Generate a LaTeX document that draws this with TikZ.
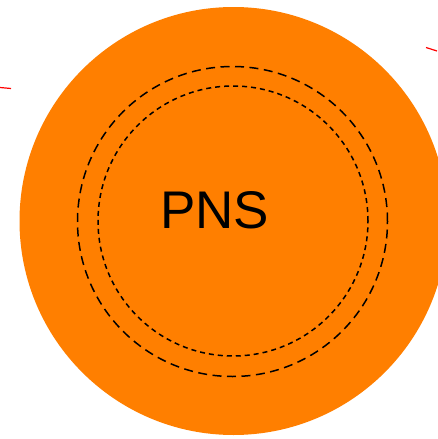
\documentclass[tikz,border=0pt]{standalone}
\usepackage{fontspec}
\setmainfont{Liberation Sans}
\definecolor{pnsorange}{HTML}{FF7F00}
\begin{document}
\begin{tikzpicture}[x=1pt,y=-1pt,
  ring/.style={draw=black,line width=1.5pt,fill=none},
  redline/.style={draw=red,line width=1.2pt}]
\useasboundingbox (0,0) rectangle (437,439);
\fill[pnsorange] (233.5,221) circle (214);
\node[circle,ring,dash pattern=on 9pt off 5.5pt,minimum size=310pt,inner sep=0pt] (outer) at (232.5,221.5) {};
\node[circle,ring,dash pattern=on 5pt off 4pt,minimum size=270pt,inner sep=0pt] (inner) at (233,221) {};
\node[font=\fontsize{53}{60}\selectfont,inner sep=0pt] (pns) at (214.5,210) {PNS};
\coordinate (l1) at (0,87.5);
\coordinate (l2) at (11,88.5);
\coordinate (r1) at (426,47.5);
\coordinate (r2) at (437,51);
\draw[redline] (l1) -- (l2);
\draw[redline] (r1) -- (r2);
\end{tikzpicture}
\end{document}
